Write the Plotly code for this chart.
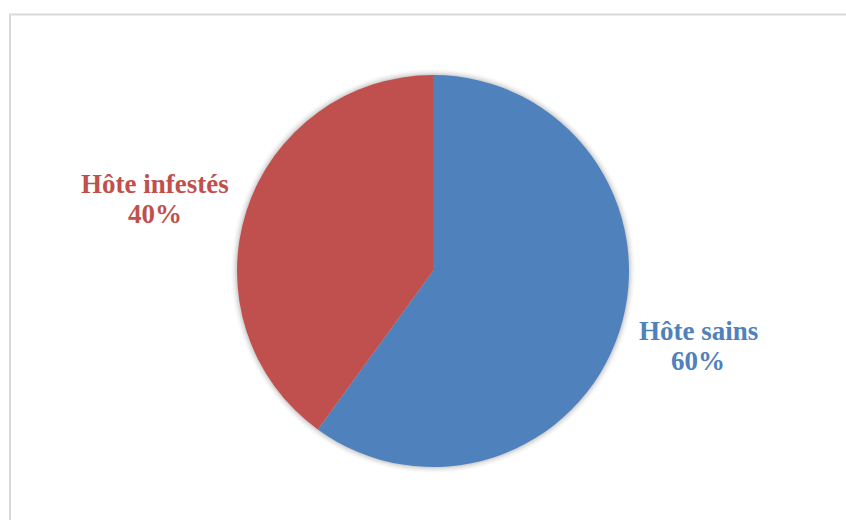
import plotly.graph_objects as go

labels = ["Hôte sains", "Hôte infestés"]
values = [60, 40]
colors = ["#4F81BD", "#C0504D"]

W, H = 846, 520
cx, cy, R = 433, 271, 196

fig = go.Figure(go.Pie(
    labels=labels,
    values=values,
    sort=False,
    direction="clockwise",
    rotation=0,
    marker=dict(colors=colors, line=dict(width=0)),
    textinfo="none",
    showlegend=False,
    hoverinfo="label+percent",
    domain=dict(x=[(cx - 250) / W, (cx + 250) / W],
                y=[1 - (cy + R) / H, 1 - (cy - R) / H]),
))

def px(x):
    return x / W

def py(y):
    return 1 - y / H

# soft shadow around the pie
for i, a in zip(range(6, 0, -1), [0.015, 0.02, 0.025, 0.03, 0.04, 0.05]):
    r = R + i
    fig.add_shape(type="circle", xref="paper", yref="paper",
                  x0=px(cx - r), x1=px(cx + r), y0=py(cy + r), y1=py(cy - r),
                  line=dict(width=0), fillcolor=f"rgba(0,0,0,{a})", layer="below")

# chart border
fig.add_shape(type="rect", xref="paper", yref="paper",
              x0=px(10), x1=px(870), y0=py(540), y1=py(14.5),
              line=dict(color="#d9d9d9", width=2), fillcolor="rgba(0,0,0,0)", layer="below")

total = sum(values)
label_pos = [(698, 331, 361), (155, 184, 214)]
for lab, val, col, (lx, y1, y2) in zip(labels, values, colors, label_pos):
    pct = f"{round(100 * val / total)}%"
    for txt, yy in ((lab, y1), (pct, y2)):
        fig.add_annotation(x=px(lx), y=py(yy), xref="paper", yref="paper",
                           text=f"<b>{txt}</b>", showarrow=False,
                           xanchor="center", yanchor="middle",
                           font=dict(family="Liberation Serif", size=27, color=col))

fig.update_layout(
    width=W, height=H,
    margin=dict(l=0, r=0, t=0, b=0),
    paper_bgcolor="white",
    plot_bgcolor="white",
)

fig.write_html("out.html")
